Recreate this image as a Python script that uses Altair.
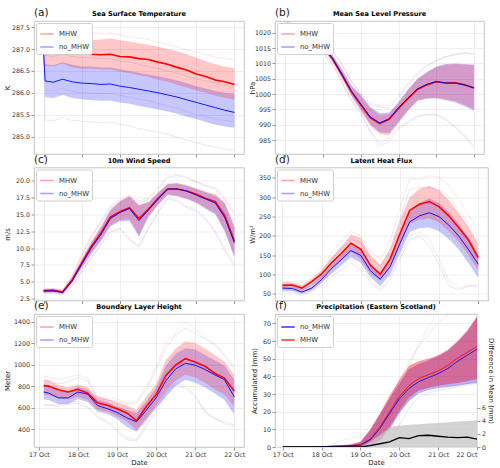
import json
import altair as alt
import pandas as pd

# ---------------------------------------------------------------- time axis
DAY_LABELS = ["17 Oct", "18 Oct", "19 Oct", "20 Oct", "21 Oct", "22 Oct"]
DAY_HOURS = [0, 24, 48, 72, 96, 120]
HOURS = list(range(0, 121, 6))                 # hours after 17 Oct 00 UTC
HOURS_SST = [0, 1] + list(range(6, 121, 6))
HOURS_BLH = [3] + list(range(6, 121, 6))

# ---------------------------------------------------------------- (a) SST [K]
sst_mhw = [286.93, 286.93, 286.92, 286.97, 286.9, 286.9, 286.88, 286.87, 286.88, 286.83, 286.82,
           286.78, 286.76, 286.7, 286.65, 286.58, 286.52, 286.43, 286.37, 286.29, 286.25, 286.19]
sst_no = [286.93, 286.27, 286.24, 286.31, 286.25, 286.22, 286.21, 286.19, 286.2, 286.15, 286.12,
          286.08, 286.04, 286.0, 285.95, 285.9, 285.84, 285.78, 285.72, 285.66, 285.6, 285.55]
sst_mhw_hi = [287.13, 287.13, 287.13, 287.2, 287.17, 287.18, 287.2, 287.22, 287.24, 287.2, 287.17,
              287.13, 287.1, 287.05, 287.0, 286.95, 286.88, 286.8, 286.72, 286.65, 286.6, 286.56]
sst_mhw_lo = [286.62, 286.62, 286.6, 286.67, 286.58, 286.55, 286.55, 286.53, 286.53, 286.48, 286.45,
              286.4, 286.36, 286.3, 286.25, 286.18, 286.12, 286.05, 286.0, 285.93, 285.88, 285.84]
sst_no_hi = [286.93, 286.65, 286.63, 286.7, 286.64, 286.6, 286.6, 286.58, 286.58, 286.54, 286.5,
             286.46, 286.42, 286.38, 286.33, 286.28, 286.22, 286.15, 286.1, 286.04, 286.0, 285.97]
sst_no_lo = [286.93, 285.9, 285.88, 285.95, 285.88, 285.85, 285.83, 285.82, 285.82, 285.78, 285.75,
             285.7, 285.66, 285.62, 285.57, 285.52, 285.45, 285.4, 285.33, 285.27, 285.23, 285.2]
sst_mhw_max = [287.38, 287.38, 287.38, 287.42, 287.38, 287.37, 287.37, 287.36, 287.36, 287.32, 287.28,
               287.25, 287.22, 287.15, 287.1, 287.05, 286.98, 286.92, 286.87, 286.82, 286.78, 286.75]
sst_mhw_min = [286.06, 286.06, 286.04, 286.1, 286.03, 286.0, 286.0, 285.98, 285.98, 285.94, 285.9,
               285.85, 285.82, 285.76, 285.7, 285.64, 285.58, 285.5, 285.45, 285.4, 285.37, 285.34]
sst_no_max = [286.93, 286.85, 286.83, 286.88, 286.83, 286.8, 286.8, 286.78, 286.78, 286.73, 286.7,
              286.65, 286.6, 286.55, 286.5, 286.45, 286.38, 286.32, 286.27, 286.22, 286.17, 286.12]
sst_no_min = [286.93, 285.38, 285.36, 285.43, 285.37, 285.35, 285.33, 285.32, 285.33, 285.28, 285.24,
              285.18, 285.14, 285.1, 285.05, 284.98, 284.92, 284.86, 284.8, 284.76, 284.72, 284.68]

# ---------------------------------------------------------------- (b) MSLP [hPa]
msl_mhw = [1022.5, 1021.5, 1020.0, 1018.0, 1015.5, 1011.5, 1006.3, 1000.8, 996.5, 992.3, 990.4,
           991.8, 995.3, 998.5, 1001.5, 1003.0, 1004.0, 1003.6, 1003.7, 1003.0, 1002.0]
msl_no = [1022.5, 1021.5, 1020.1, 1018.1, 1015.6, 1011.7, 1006.5, 1001.0, 996.8, 992.6, 990.6,
          991.9, 995.6, 998.8, 1001.7, 1003.2, 1004.1, 1003.6, 1003.6, 1003.0, 1002.0]
msl_mhw_hi = [1023.0, 1022.0, 1020.6, 1018.8, 1016.3, 1012.5, 1007.8, 1002.5, 999.5, 995.5, 993.3,
              993.5, 997.0, 1001.3, 1004.8, 1007.0, 1008.8, 1009.6, 1009.8, 1009.6, 1009.4]
msl_mhw_lo = [1022.0, 1021.0, 1019.4, 1017.2, 1014.6, 1010.5, 1005.2, 999.3, 994.5, 989.8, 987.0,
              986.6, 990.5, 994.5, 997.8, 998.6, 998.8, 998.3, 997.7, 996.5, 995.0]
msl_no_hi = [1023.0, 1022.0, 1020.8, 1019.0, 1016.6, 1012.8, 1008.2, 1003.0, 999.9, 996.0, 993.8,
             994.0, 997.5, 1001.6, 1005.0, 1007.2, 1009.0, 1009.8, 1010.0, 1009.8, 1009.6]
msl_no_lo = [1022.0, 1021.0, 1019.5, 1017.3, 1014.8, 1010.7, 1005.5, 999.6, 994.8, 990.2, 987.6,
             987.3, 991.0, 994.8, 997.9, 998.6, 998.6, 998.0, 997.3, 996.0, 994.6]
msl_mhw_max = [1023.5, 1022.8, 1021.5, 1019.8, 1017.5, 1014.0, 1009.5, 1004.0, 1000.5, 997.0, 996.2,
               996.3, 999.5, 1003.5, 1007.0, 1009.5, 1011.0, 1012.3, 1013.0, 1013.5, 1013.2]
msl_mhw_min = [1021.5, 1020.2, 1018.5, 1016.2, 1013.5, 1009.5, 1003.8, 997.8, 993.5, 987.5, 983.0,
               984.5, 988.5, 990.5, 992.5, 993.2, 993.0, 991.5, 989.0, 986.0, 982.5]
msl_no_max = [1023.5, 1022.8, 1021.7, 1020.0, 1017.8, 1014.3, 1009.8, 1004.3, 1000.2, 996.5, 995.8,
              995.5, 998.8, 1003.0, 1006.5, 1009.0, 1010.8, 1012.0, 1012.8, 1013.2, 1013.0]
msl_no_min = [1021.5, 1020.3, 1018.7, 1016.4, 1013.7, 1009.8, 1004.1, 998.1, 993.9, 988.0, 984.0,
              985.5, 989.0, 991.0, 992.9, 993.5, 993.4, 992.0, 989.5, 986.5, 983.0]

# ---------------------------------------------------------------- (c) 10 m wind [m/s]
ws_mhw = [3.65, 3.7, 3.45, 5.3, 7.8, 10.2, 12.2, 14.6, 15.4, 16.0, 14.4, 15.8, 17.4, 18.8, 18.8,
          18.5, 18.0, 17.4, 16.9, 14.8, 11.0]
ws_no = [3.6, 3.65, 3.4, 5.1, 7.6, 10.0, 12.0, 14.4, 15.3, 15.9, 14.1, 15.7, 17.3, 18.8, 18.8,
         18.5, 17.9, 17.3, 16.7, 14.5, 10.8]
ws_mhw_hi = [3.9, 3.95, 3.7, 5.7, 8.4, 11.0, 13.2, 15.8, 17.0, 17.8, 16.5, 16.9, 18.3, 19.6, 19.7,
             19.4, 18.9, 18.4, 18.0, 16.8, 13.3]
ws_mhw_lo = [3.4, 3.45, 3.2, 4.9, 7.2, 9.3, 11.2, 13.4, 14.2, 14.3, 12.0, 14.8, 16.5, 18.0, 17.8,
             17.4, 16.8, 16.0, 15.2, 12.6, 8.7]
ws_no_hi = [3.85, 3.9, 3.65, 5.5, 8.2, 10.8, 13.0, 15.6, 16.9, 17.6, 16.3, 16.8, 18.2, 19.5, 19.6,
            19.3, 18.8, 18.3, 17.8, 16.6, 13.0]
ws_no_lo = [3.35, 3.4, 3.15, 4.7, 7.0, 9.1, 11.0, 13.2, 14.0, 14.0, 11.7, 14.6, 16.4, 17.9, 17.7,
            17.3, 16.7, 15.8, 15.0, 12.4, 8.6]
ws_mhw_max = [3.9, 4.0, 3.8, 6.0, 9.0, 11.8, 14.0, 16.3, 17.2, 17.9, 17.0, 17.5, 19.0, 20.8, 21.0,
              20.6, 19.9, 19.4, 19.0, 17.5, 15.5]
ws_mhw_min = [3.3, 3.3, 3.1, 4.4, 6.6, 8.6, 10.6, 12.6, 13.0, 11.5, 10.1, 13.0, 15.5, 17.5, 17.2,
              16.2, 15.7, 14.5, 12.5, 10.0, 7.6]
ws_no_max = [3.9, 3.95, 3.75, 5.8, 8.8, 11.6, 13.8, 16.0, 17.0, 17.6, 16.7, 17.3, 18.7, 20.5, 20.8,
             20.4, 19.8, 19.2, 18.8, 17.2, 15.0]
ws_no_min = [3.3, 3.3, 3.05, 4.3, 6.5, 8.5, 10.4, 12.4, 12.8, 11.2, 10.4, 12.8, 15.3, 17.3, 17.0,
             16.0, 15.5, 14.2, 12.2, 9.6, 7.3]

# ---------------------------------------------------------------- (d) latent heat flux [W/m2]
lh_mhw = [72, 73, 65, 82, 101, 130, 154, 181, 166, 124, 101, 140, 205, 266, 282, 289, 276, 252,
          222, 190, 144]
lh_no = [65, 64, 55, 65, 87, 115, 138, 162, 150, 110, 88, 120, 180, 236, 252, 260, 250, 228,
         200, 165, 127]
lh_mhw_hi = [80, 80, 72, 90, 112, 145, 172, 203, 195, 150, 125, 165, 240, 300, 322, 330, 318, 293,
             260, 225, 181]
lh_mhw_lo = [65, 66, 58, 72, 90, 115, 137, 160, 140, 102, 85, 118, 175, 232, 242, 245, 235, 212,
             185, 150, 112]
lh_no_hi = [70, 70, 62, 74, 96, 125, 150, 176, 166, 125, 105, 140, 205, 262, 285, 297, 285, 262,
            232, 195, 150]
lh_no_lo = [58, 58, 50, 58, 78, 103, 124, 145, 130, 93, 70, 100, 155, 210, 220, 222, 212, 192,
            165, 130, 92]
lh_mhw_max = [82, 82, 75, 95, 120, 155, 185, 212, 200, 160, 140, 185, 270, 350, 345, 356, 352, 330,
              295, 255, 220]
lh_mhw_min = [60, 60, 53, 64, 82, 104, 122, 140, 122, 88, 62, 95, 150, 200, 210, 190, 140, 85,
              65, 72, 72]
lh_no_max = [74, 74, 66, 80, 105, 138, 165, 192, 182, 142, 120, 165, 245, 320, 325, 325, 320, 300,
             268, 232, 200]
lh_no_min = [55, 55, 47, 56, 72, 95, 112, 130, 112, 80, 58, 88, 140, 190, 200, 175, 125, 72,
             60, 70, 68]

# ---------------------------------------------------------------- (e) boundary layer height [m]
blh_mhw = [804, 800, 765, 745, 770, 735, 645, 622, 590, 550, 478, 610, 720, 900, 995, 1055, 1025,
           985, 920, 875, 755]
blh_no = [745, 735, 690, 690, 745, 725, 620, 590, 555, 505, 468, 575, 690, 850, 960, 1012, 995,
          955, 905, 860, 700]
blh_mhw_hi = [860, 855, 810, 790, 815, 790, 700, 680, 650, 620, 580, 700, 820, 1040, 1150, 1215,
              1200, 1150, 1090, 1030, 906]
blh_mhw_lo = [720, 718, 690, 680, 700, 670, 580, 560, 520, 470, 390, 500, 615, 760, 850, 906, 880,
              830, 770, 720, 613]
blh_no_hi = [814, 805, 760, 750, 790, 765, 675, 650, 610, 580, 550, 660, 780, 990, 1100, 1153, 1140,
             1090, 1040, 990, 860]
blh_no_lo = [675, 670, 630, 630, 680, 650, 560, 540, 495, 420, 375, 480, 595, 700, 800, 860, 830,
             790, 730, 670, 536]
blh_mhw_max = [890, 885, 860, 880, 906, 870, 700, 690, 680, 644, 655, 800, 983, 1200, 1300, 1400,
               1330, 1260, 1200, 1100, 983]
blh_mhw_min = [619, 615, 630, 650, 659, 610, 520, 480, 400, 320, 300, 440, 580, 760, 829, 798, 720,
               560, 496, 470, 440]
blh_no_max = [860, 850, 820, 840, 880, 850, 690, 670, 660, 630, 640, 770, 950, 1150, 1280, 1340,
              1290, 1240, 1180, 1080, 960]
blh_no_min = [630, 625, 610, 630, 640, 600, 505, 460, 380, 300, 289, 420, 551, 740, 810, 780, 700,
              560, 500, 450, 428]

# ---------------------------------------------------------------- (f) accumulated precipitation [mm]
pr_mhw = [0, 0, 0, 0, 0.1, 0.4, 0.6, 0.8, 1.3, 4.5, 11.5, 20, 28.5, 34.8, 38.8, 41, 43, 46.3,
          50.3, 53.6, 56.9]
pr_no = [0, 0, 0, 0, 0.1, 0.3, 0.5, 0.7, 1.0, 4.0, 10.5, 19, 27.2, 33.2, 37, 39.3, 41.5, 44.5,
         48.5, 52, 55.4]
pr_mhw_hi = [0, 0, 0, 0, 0.3, 0.8, 1.0, 1.5, 3, 10, 19, 29, 38, 46, 48.5, 50, 52, 55, 60, 66, 74]
pr_mhw_lo = [0, 0, 0, 0, 0, 0, 0, 0, 0, 0.3, 4, 11, 20.5, 28, 32, 33.5, 34.7, 35.5, 36.2, 37.2, 38.5]
pr_no_hi = [0, 0, 0, 0, 0.3, 0.7, 0.9, 1.3, 2.8, 9.5, 18.5, 27.5, 36, 44, 47, 49, 51.5, 54.5,
            59.5, 65.5, 73.5]
pr_no_lo = [0, 0, 0, 0, 0, 0, 0, 0, 0, 0.2, 3.5, 10, 19, 26, 30.5, 32.3, 33.4, 34, 34.7, 35.5, 36.2]
pr_mhw_max = [0, 0, 0, 0, 0.5, 1, 3.5, 5, 6, 12, 13.5, 17, 33, 45, 58, 68, 76, 82, 88, 94, 100]
pr_mhw_min = [0, 0, 0, 0, 0, 0, 0, 0, 0, 0, 2, 10, 20, 27, 30, 31.5, 33, 34, 35, 36, 37]
pr_no_max = [0, 0, 0, 0, 0.2, 0.4, 0.6, 0.8, 1.2, 6, 15, 26, 38, 48, 57, 64, 70, 75, 80, 85, 90]
pr_no_min = [0, 0, 0, 0, 0, 0, 0, 0, 0, 0, 0.5, 3, 12, 22, 28, 30.5, 32, 33, 34, 35, 36]
pr_diff = [0, 0, 0, 0, 0, 0, 0, 0, 0, 0.2, 0.5, 0.8, 1.45, 1.3, 1.75, 1.8, 1.65, 1.5, 1.45, 1.5, 1.2]
pr_diff_hi = [0, 0, 0, 0, 0, 0, 0, 0, 0, 0.8, 1.8, 3.0, 3.3, 3.4, 3.5, 3.6, 3.7, 3.8, 3.9, 4.0, 4.1]
pr_diff_lo = [0] * len(HOURS)

# ---------------------------------------------------------------- styling
FONT = "DejaVu Sans"
RED = "#ff0000"
BLUE = "#0000ff"
LABEL_EXPR = json.dumps(DAY_LABELS) + "[round(datum.value / 24)]"
SERIES_COLOR = {"MHW": RED, "no_MHW": BLUE}
PANEL_H = 133


def frame_table(hours, mean, no, mhi, mlo, nhi, nlo, mmax, mmin, nmax, nmin):
    cols = dict(mhw=mean, no=no, mhw_hi=mhi, mhw_lo=mlo, no_hi=nhi, no_lo=nlo,
                mhw_max=mmax, mhw_min=mmin, no_max=nmax, no_min=nmin)
    for k, v in cols.items():
        assert len(v) == len(hours), k
    return pd.DataFrame({"h": hours, **cols})


def panel(df, *, letter, title, ytitle, ydomain, yticks, yfmt, xdomain, width, bottom,
          order=("MHW", "no_MHW"), band_op=0.22, red_band_op=None, legend_op=0.35,
          widths=(1.6, 0.9), mean_op=1.0, extent=20, extra=None):
    x = alt.X("h:Q", scale=alt.Scale(domain=xdomain, nice=False, zero=False),
              axis=alt.Axis(values=DAY_HOURS, labelExpr=LABEL_EXPR, labels=bottom,
                            title="Date" if bottom else None))
    ys = alt.Scale(domain=ydomain, nice=False, zero=False)
    ya = alt.Axis(values=yticks, format=yfmt, title=ytitle, minExtent=extent, maxExtent=extent)

    def yy(col):
        return alt.Y(f"{col}:Q", scale=ys, axis=ya)

    base = alt.Chart(df)
    layers = []
    # thin lines: ensemble maximum / minimum members
    for col, c in [("mhw_max", RED), ("mhw_min", RED), ("no_max", BLUE), ("no_min", BLUE)]:
        layers.append(base.mark_line(color=c, strokeWidth=0.8, opacity=0.13, clip=True)
                      .encode(x=x, y=yy(col)))
    # ensemble spread
    layers.append(base.mark_area(color=BLUE, opacity=band_op, clip=True)
                  .encode(x=x, y=yy("no_lo"), y2="no_hi:Q"))
    layers.append(base.mark_area(color=RED, opacity=red_band_op or band_op, clip=True)
                  .encode(x=x, y=yy("mhw_lo"), y2="mhw_hi:Q"))
    # ensemble means
    n = len(df)
    means = pd.DataFrame({"h": list(df["h"]) * 2,
                          "series": ["MHW"] * n + ["no_MHW"] * n,
                          "v": list(df["mhw"]) + list(df["no"])})
    color = alt.Color("series:N",
                      scale=alt.Scale(domain=list(order), range=[SERIES_COLOR[s] for s in order]),
                      legend=alt.Legend(orient="top-left", title=None, symbolType="stroke",
                                        symbolSize=180, symbolStrokeWidth=1.6,
                                        symbolOpacity=legend_op, labelFont=FONT, labelFontSize=6.9,
                                        labelColor="#333", fillColor="white", strokeColor="#d0d0d0",
                                        padding=3, offset=2, cornerRadius=2, rowPadding=1,
                                        labelOffset=4))
    for s, w in zip(["MHW", "no_MHW"], widths):
        layers.append(alt.Chart(means).transform_filter(f"datum.series == '{s}'")
                      .mark_line(strokeWidth=w, opacity=mean_op, clip=True)
                      .encode(x=x, y=alt.Y("v:Q", scale=ys, axis=ya), color=color))

    # panel letter and heading, set just above the plot frame
    heads = pd.DataFrame({"t": [letter]})
    tag = (alt.Chart(heads)
           .mark_text(align="left", baseline="alphabetic", font=FONT, fontSize=10.5, color="#222")
           .encode(text="t:N", x=alt.value(0), y=alt.value(-5)))
    names = pd.DataFrame({"t": [title]})
    head = (alt.Chart(names)
            .mark_text(align="center", baseline="alphabetic", font=FONT, fontSize=6.6,
                       fontWeight="bold", color="black")
            .encode(text="t:N", x=alt.value(width / 2), y=alt.value(-5)))

    main = alt.layer(*layers)
    if extra is not None:
        ch = alt.layer(main, extra(x), tag, head).resolve_scale(y="independent")
    else:
        ch = alt.layer(main, tag, head)
    return ch.properties(width=width, height=PANEL_H)


# ---------------------------------------------------------------- panels
df_a = frame_table(HOURS_SST, sst_mhw, sst_no, sst_mhw_hi, sst_mhw_lo, sst_no_hi, sst_no_lo,
                   sst_mhw_max, sst_mhw_min, sst_no_max, sst_no_min)
pa = panel(df_a, letter="(a)", title="Sea Surface Temperature", ytitle="K",
           ydomain=[284.6, 287.64], yticks=[285.0, 285.5, 286.0, 286.5, 287.0, 287.5], yfmt=".1f",
           xdomain=[-6, 126], width=210, bottom=False, extent=22)

df_b = frame_table(HOURS, msl_mhw, msl_no, msl_mhw_hi, msl_mhw_lo, msl_no_hi, msl_no_lo,
                   msl_mhw_max, msl_mhw_min, msl_no_max, msl_no_min)
pb = panel(df_b, letter="(b)", title="Mean Sea Level Pressure", ytitle="hPa",
           ydomain=[980.5, 1023.8], yticks=[985, 990, 995, 1000, 1005, 1010, 1015, 1020], yfmt="d",
           xdomain=[-6.5, 126.3], width=209, bottom=False, extent=18)

df_c = frame_table(HOURS, ws_mhw, ws_no, ws_mhw_hi, ws_mhw_lo, ws_no_hi, ws_no_lo,
                   ws_mhw_max, ws_mhw_min, ws_no_max, ws_no_min)
pc = panel(df_c, letter="(c)", title="10m Wind Speed", ytitle="m/s",
           ydomain=[2.2, 22.0], yticks=[2.5, 5.0, 7.5, 10.0, 12.5, 15.0, 17.5, 20.0], yfmt=".1f",
           xdomain=[-6, 126], width=210, bottom=False, extent=22)

df_d = frame_table(HOURS, lh_mhw, lh_no, lh_mhw_hi, lh_mhw_lo, lh_no_hi, lh_no_lo,
                   lh_mhw_max, lh_mhw_min, lh_no_max, lh_no_min)
pd_ = panel(df_d, letter="(d)", title="Latent Heat Flux", ytitle="W/m²",
            ydomain=[33, 377], yticks=[50, 100, 150, 200, 250, 300, 350], yfmt="d",
            xdomain=[-4.5, 126], width=213, bottom=False, extent=18)

df_e = frame_table(HOURS_BLH, blh_mhw, blh_no, blh_mhw_hi, blh_mhw_lo, blh_no_hi, blh_no_lo,
                   blh_mhw_max, blh_mhw_min, blh_no_max, blh_no_min)
pe = panel(df_e, letter="(e)", title="Boundary Layer Height", ytitle="Meter",
           ydomain=[233, 1471], yticks=[400, 600, 800, 1000, 1200, 1400], yfmt="d",
           xdomain=[-3, 126], width=210, bottom=True, extent=22)

diff_df = pd.DataFrame({"h": HOURS, "d": pr_diff, "dlo": pr_diff_lo, "dhi": pr_diff_hi})


def difference_layers(x):
    ds = alt.Scale(domain=[0, 20.4], nice=False, zero=False)
    da = alt.Axis(orient="right", values=[0, 2, 4, 6], format="d", grid=False,
                  title="Difference in Mean (mm)")
    return alt.layer(
        alt.Chart(diff_df).mark_area(color="#c8c8c8", opacity=0.8, clip=True)
        .encode(x=x, y=alt.Y("dlo:Q", scale=ds, axis=da), y2="dhi:Q"),
        alt.Chart(diff_df).mark_line(color="black", strokeWidth=1.3, clip=True)
        .encode(x=x, y=alt.Y("d:Q", scale=ds, axis=da)),
    )


df_f = frame_table(HOURS, pr_mhw, pr_no, pr_mhw_hi, pr_mhw_lo, pr_no_hi, pr_no_lo,
                   pr_mhw_max, pr_mhw_min, pr_no_max, pr_no_min)
pf = panel(df_f, letter="(f)", title="Precipitation (Eastern Scotland)", ytitle="Accumulated (mm)",
           ydomain=[0, 75.3], yticks=[0, 10, 20, 30, 40, 50, 60, 70], yfmt="d",
           xdomain=[-4.8, 120], width=202, bottom=True, order=("no_MHW", "MHW"),
           band_op=0.3, red_band_op=0.4, legend_op=0.75, widths=(1.0, 1.0),
           mean_op=0.8, extent=16, extra=difference_layers)

# two-column grid; flush bounds space the panels frame-to-frame
chart = (
    alt.concat(pa, pb, pc, pd_, pe, pf, columns=2, bounds="flush", align="each",
               spacing=alt.RowColnumber(row=13.5, column=31))
    .resolve_scale(color="independent", x="independent", y="independent")
    .resolve_legend(color="independent")
    .properties(padding={"left": 2, "top": 7, "right": 2, "bottom": 0})
    .configure_view(stroke="#b5b5b5", strokeWidth=0.8)
    .configure_axis(labelFont=FONT, titleFont=FONT, labelFontSize=6.3, titleFontSize=6.9,
                    titleFontWeight="normal", labelColor="#333333", titleColor="#222222",
                    gridColor="#e8e8e8", gridWidth=0.7, tickColor="#999999", tickSize=3,
                    domain=False, labelPadding=1.5, titlePadding=2)
)

chart.save("out.html", embed_options={"renderer": "svg", "actions": False})
